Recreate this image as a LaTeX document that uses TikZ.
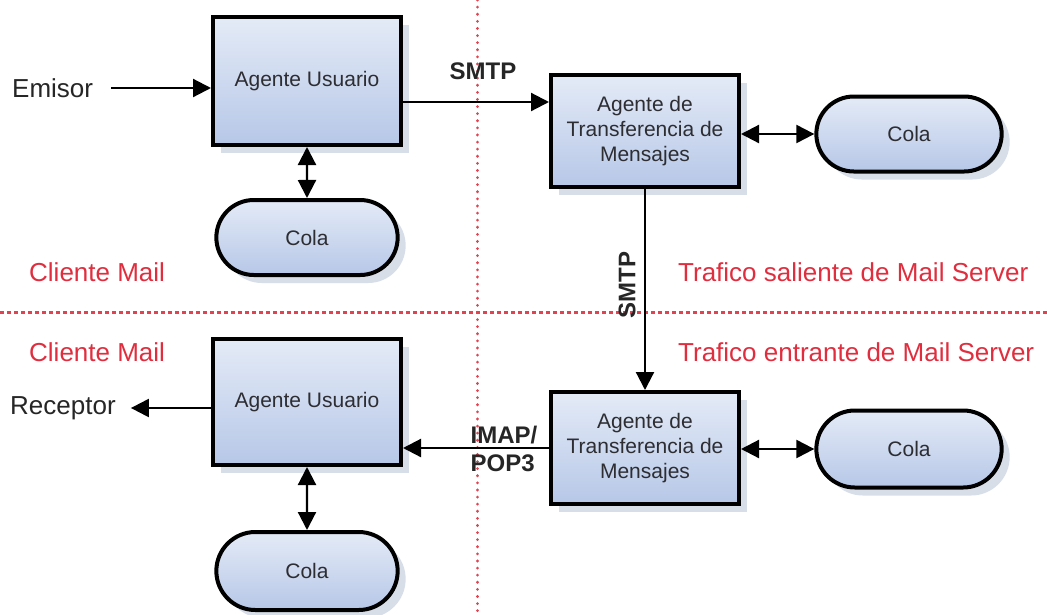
\documentclass[tikz,border=0pt]{standalone}
\usepackage{fontspec}
\setmainfont{Liberation Sans}
\usetikzlibrary{arrows.meta,shapes.misc,shadows}
\definecolor{boxtop}{RGB}{228,235,247}
\definecolor{boxbot}{RGB}{182,199,231}
\definecolor{shadowc}{RGB}{216,222,232}
\definecolor{zone}{RGB}{224,46,62}
\definecolor{ink}{RGB}{45,45,50}
\tikzset{
  agent/.style={draw=black, line width=4pt, top color=boxtop, bottom color=boxbot,
    minimum width=188pt, align=center, text=ink,
    font=\fontsize{21}{25}\selectfont,
    drop shadow={shadow xshift=8pt, shadow yshift=-8pt, fill=shadowc, opacity=1}},
  queue/.style={agent, rounded rectangle},
  plain/.style={inner sep=0pt, text=black!85, font=\fontsize{26}{30}\selectfont},
  zonetxt/.style={inner sep=0pt, text=zone, font=\fontsize{26}{30}\selectfont},
  proto/.style={inner sep=0pt, text=black!85, font=\bfseries\fontsize{24}{28}\selectfont},
  link/.style={line width=2.2pt, -{Triangle[length=18pt,width=18pt]}},
  duplex/.style={line width=2.2pt, {Triangle[length=18pt,width=18pt]}-{Triangle[length=18pt,width=18pt]}},
  vsplit/.style={zone!90, line width=3pt, line cap=round, dash pattern=on 0.1pt off 7pt},
  hsplit/.style={zone!90, line width=3pt, dash pattern=on 4pt off 3pt}
}
\begin{document}
\begin{tikzpicture}[x=1pt,y=-1pt]
\useasboundingbox (0,0) rectangle (1047,614);
\fill[white] (0,0) rectangle (1047,614);

% zone separators
\draw[vsplit] (477,0) -- (477,614);
\draw[hsplit] (0,312) -- (1047,312);

% zone captions
\node[zonetxt, anchor=west] (cm1) at (29,272) {Cliente Mail};
\node[zonetxt, anchor=west] (cm2) at (29,352) {Cliente Mail};
\node[zonetxt, anchor=west] (out) at (678,272) {Trafico saliente de Mail Server};
\node[zonetxt, anchor=west] (in)  at (678,352) {Trafico entrante de Mail Server};

% sending side
\node[agent, minimum height=128pt] (au1) at (307,81) {Agente Usuario};
\node[queue, minimum height=75pt] (cola1) at (307,237.5) {Cola};
\node[agent, minimum height=112pt] (mta1) at (645,131) {Agente de\\Transferencia de\\Mensajes};
\node[queue, minimum width=192pt, minimum height=75pt] (cola2) at (909,134) {Cola};

% receiving side
\node[agent, minimum height=126pt] (au2) at (307,402) {Agente Usuario};
\node[queue, minimum height=78pt] (cola3) at (307,571) {Cola};
\node[agent, minimum height=112pt] (mta2) at (645,448) {Agente de\\Transferencia de\\Mensajes};
\node[queue, minimum width=192pt, minimum height=77pt] (cola4) at (909,449) {Cola};

% end points
\node[plain, anchor=west] (em) at (12,88) {Emisor};
\node[plain, anchor=west] (rc) at (10,408) {Receptor};

% connectors
\draw[link] ([xshift=18pt]em.east) -- (em.east -| au1.west);
\draw[link] (au1.east |- 0,102) -- (mta1.west |- 0,102);
\draw[link] (mta1) -- (mta2);
\draw[link] (mta2.west) -- (mta2.west -| au2.east);
\draw[link] (rc.east -| au2.west) -- ([xshift=15pt]rc.east);
\draw[duplex] (au1) -- (cola1);
\draw[duplex] (au2) -- (cola3);
\draw[duplex] (cola2.west -| mta1.east) -- (cola2.west);
\draw[duplex] (cola4.west -| mta2.east) -- (cola4.west);

% protocol labels
\node[proto] (p1) at (483,71) {SMTP};
\node[proto, rotate=90] (p2) at (627,285) {SMTP};
\node[proto, align=left] (p3) at (504,449) {IMAP/\\POP3};
\end{tikzpicture}
\end{document}
